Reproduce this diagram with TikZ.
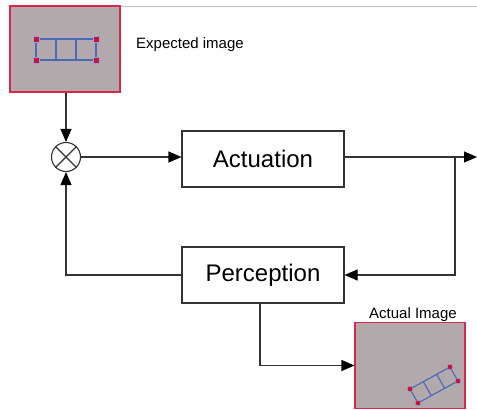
\documentclass[tikz,border=0pt]{standalone}
\usepackage{fontspec}
\setmainfont{Liberation Sans}
\usetikzlibrary{arrows.meta,calc}
\definecolor{imgfill}{HTML}{B1A9AB}
\definecolor{imgedge}{HTML}{D8284A}
\definecolor{ladder}{HTML}{4A68B8}
\definecolor{dotred}{HTML}{D0103A}
\definecolor{linec}{HTML}{333333}
\tikzset{
  conn/.style={draw=linec, line width=1.1pt},
  arr/.style={conn, -{Triangle[length=13pt,width=11pt,fill=black,color=black]}},
  block/.style={draw=linec, line width=1.1pt, fill=white, minimum width=162pt, minimum height=56pt, inner sep=0pt, font=\fontsize{24}{28}\selectfont},
  imgbox/.style={draw=imgedge, fill=imgfill, line width=1.1pt, minimum width=110pt, minimum height=86pt, inner sep=0pt},
  lad/.style={draw=ladder, line width=1.1pt},
  cdot/.style={fill=dotred, draw=ladder!60, line width=0.4pt, minimum size=6pt, inner sep=0pt},
  lbl/.style={font=\fontsize{15}{18}\selectfont, inner sep=0pt}
}
\begin{document}
\begin{tikzpicture}[x=1pt,y=-1pt]
\useasboundingbox (0,0) rectangle (477,410);
% top thin line
\coordinate (tl1) at (120,6);
\coordinate (tl2) at (477,6);
\draw[gray!50, line width=0.8pt] (tl1) -- (tl2);
% expected image
\node[imgbox] (exp) at (65,49) {};
\coordinate (e1) at (36,39);
\coordinate (e2) at (96,39);
\coordinate (e3) at (96,60);
\coordinate (e4) at (36,60);
\draw[lad] (e1) -- (e2) -- (e3) -- (e4) -- cycle;
\draw[lad] ($(e1)!1/3!(e2)$) -- ($(e4)!1/3!(e3)$);
\draw[lad] ($(e1)!2/3!(e2)$) -- ($(e4)!2/3!(e3)$);
\foreach \p in {e1,e2,e3,e4} \node[cdot] at (\p) {};
\node[lbl, anchor=west] (explbl) at (136,45) {Expected image};
% summing junction
\node[draw=linec, line width=1.1pt, circle, minimum size=29pt, inner sep=0pt] (sum) at (66,157) {};
\draw[conn] (sum.45) -- (sum.225);
\draw[conn] (sum.135) -- (sum.-45);
% blocks
\node[block] (act) at (263,159) {Actuation};
\node[block] (per) at (263,275) {Perception};
% actual image
\node[imgbox] (actimg) at (410,365.5) {};
\node[lbl, anchor=south] (actlbl) at (actimg.north) [xshift=3pt, yshift=0pt] {Actual Image};
\coordinate (a1) at (410,389);
\coordinate (a2) at (450,367);
\coordinate (a3) at (458,381);
\coordinate (a4) at (418,403);
\draw[lad] (a1) -- (a2) -- (a3) -- (a4) -- cycle;
\draw[lad] ($(a1)!1/3!(a2)$) -- ($(a4)!1/3!(a3)$);
\draw[lad] ($(a1)!2/3!(a2)$) -- ($(a4)!2/3!(a3)$);
\foreach \p in {a1,a2,a3,a4} \node[cdot, circle, minimum size=5.5pt] at (\p) {};
% connectors
\draw[arr] (exp.south -| sum) -- (sum.north);
\draw[arr] (sum.east) -- (sum.east -| act.west);
\coordinate (out) at (477,157);
\coordinate (br) at (455,157);
\draw[arr] (act.east |- out) -- (out);
\draw[arr] (br) |- (per.east);
\draw[arr] (per.west) -| (sum.south);
\coordinate (pb) at (260,302);
\draw[arr] (per.south -| pb) |- (actimg.west);
\end{tikzpicture}
\end{document}
